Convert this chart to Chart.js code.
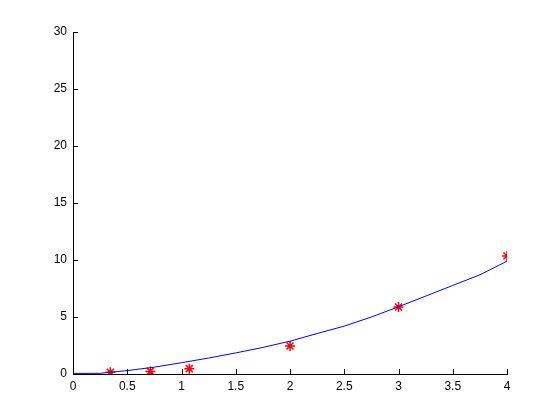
<!DOCTYPE html>
<html>
<head>
<meta charset="utf-8">
<script src="https://cdn.jsdelivr.net/npm/chart.js@4"></script>
<style>
  body { margin: 0; background: #fff; }
</style>
</head>
<body>
<canvas id="plot" width="560" height="420"></canvas>
<script>
// fitted curve (blue line)
const curveX = [0, 0.25, 0.5, 0.75, 1, 1.25, 1.5, 1.75, 2, 2.25, 2.5, 2.75, 3, 3.25, 3.5, 3.75, 4];
const curveY = [0.05, 0.06, 0.3, 0.6, 0.99, 1.4, 1.85, 2.33, 2.88, 3.55, 4.2, 5.0, 5.9, 6.83, 7.77, 8.7, 9.9];
// measured points (red stars)
const pointX = [0.344, 0.713, 1.072, 2.0, 3.0, 4.0];
const pointY = [0.15, 0.23, 0.47, 2.46, 5.88, 10.35];
// axis ticks
const xTicks = [0, 0.5, 1, 1.5, 2, 2.5, 3, 3.5, 4];
const yTicks = [0, 5, 10, 15, 20, 25, 30];

const toPts = (xs, ys) => xs.map((x, i) => ({ x: x, y: ys[i] }));

// MATLAB style inward tick marks
const inwardTicks = {
  id: 'inwardTicks',
  afterDatasetsDraw(chart) {
    const { ctx, chartArea, scales } = chart;
    ctx.save();
    ctx.strokeStyle = '#000';
    ctx.lineWidth = 1;
    ctx.beginPath();
    xTicks.forEach(v => {
      const px = Math.round(scales.x.getPixelForValue(v)) + 0.5;
      ctx.moveTo(px, chartArea.bottom);
      ctx.lineTo(px, chartArea.bottom - 5);
    });
    yTicks.forEach(v => {
      const py = Math.round(scales.y.getPixelForValue(v)) + 0.5;
      ctx.moveTo(chartArea.left, py);
      ctx.lineTo(chartArea.left + 5, py);
    });
    ctx.stroke();
    ctx.restore();
  }
};

new Chart(document.getElementById('plot').getContext('2d'), {
  type: 'scatter',
  data: {
    datasets: [
      {
        data: toPts(curveX, curveY),
        showLine: true,
        borderColor: '#0000ff',
        borderWidth: 1,
        pointRadius: 0,
        tension: 0,
        fill: false
      },
      {
        data: toPts(pointX, pointY),
        showLine: false,
        pointStyle: 'star',
        pointRadius: 5,
        borderColor: '#ff0000',
        backgroundColor: '#ff0000',
        pointBorderWidth: 1.5
      }
    ]
  },
  options: {
    responsive: false,
    animation: false,
    layout: { padding: { left: 0, top: 32, right: 53, bottom: 0 } },
    plugins: { legend: { display: false }, tooltip: { enabled: false } },
    scales: {
      x: {
        type: 'linear',
        min: 0,
        max: 4,
        afterBuildTicks: s => { s.ticks = xTicks.map(v => ({ value: v })); },
        afterFit: s => { s.height = 46; },
        ticks: {
          color: '#000',
          padding: 5,
          maxRotation: 0,
          font: { family: 'Liberation Sans', size: 12 },
          callback: v => String(v)
        },
        grid: { drawOnChartArea: false, drawTicks: false, tickLength: 0 },
        border: { color: '#000', width: 1 }
      },
      y: {
        type: 'linear',
        min: 0,
        max: 30,
        afterBuildTicks: s => { s.ticks = yTicks.map(v => ({ value: v })); },
        afterFit: s => { s.width = 73; },
        ticks: {
          color: '#000',
          padding: 6,
          font: { family: 'Liberation Sans', size: 12 },
          callback: v => String(v)
        },
        grid: { drawOnChartArea: false, drawTicks: false, tickLength: 0 },
        border: { color: '#000', width: 1 }
      }
    }
  },
  plugins: [inwardTicks]
});
</script>
</body>
</html>
